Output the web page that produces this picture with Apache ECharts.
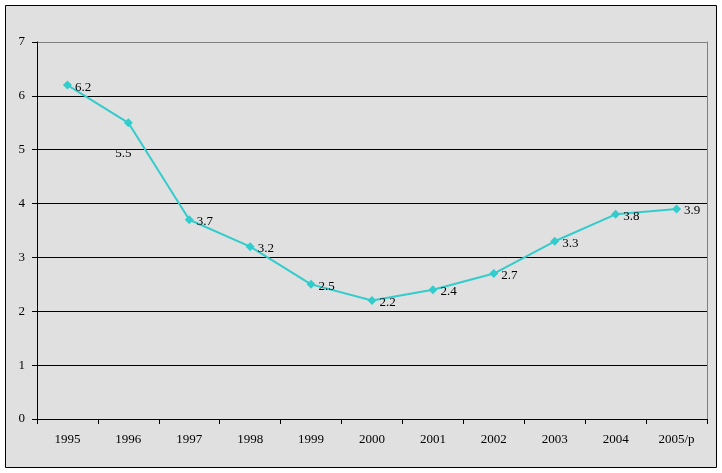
<!DOCTYPE html>
<html><head><meta charset="utf-8">
<script src="https://cdn.jsdelivr.net/npm/echarts@6/dist/echarts.min.js"></script>
<style>html,body{margin:0;padding:0;background:#fff}#c{width:722px;height:473px}</style>
</head><body><div id="c"></div>
<script>
const categories = ['1995','1996','1997','1998','1999','2000','2001','2002','2003','2004','2005/p'];
const values = [6.2,5.5,3.7,3.2,2.5,2.2,2.4,2.7,3.3,3.8,3.9];
const yTicks = [0,1,2,3,4,5,6,7];

const chart = echarts.init(document.getElementById('c'));
const font = '"Liberation Serif","DejaVu Serif",serif';
const data = values.map((v,i)=> i===1 ? {value:v,label:{position:'bottom',distance:5,offset:[-5,15]}} : v);
chart.setOption({
  backgroundColor:'#fff',
  animation:false,
  graphic:[{type:'rect',z:-10,shape:{x:5.5,y:5.5,width:711,height:462},style:{fill:'#E0E0E0',stroke:'#000',lineWidth:1}}],
  grid:{left:37,right:15,top:42,bottom:54},
  xAxis:{type:'category',data:categories,boundaryGap:true,
    axisLine:{lineStyle:{color:'#000'}},
    axisTick:{show:true,length:5,lineStyle:{color:'#000'}},
    axisLabel:{color:'#000',fontFamily:font,fontSize:13,margin:14}},
  yAxis:[{type:'value',min:0,max:7,interval:1,
    axisLine:{show:true,lineStyle:{color:'#000'}},
    axisTick:{show:true,length:5,lineStyle:{color:'#000'}},
    axisLabel:{color:'#000',fontFamily:font,fontSize:13,margin:12,formatter:v=>yTicks.includes(v)?String(v):''},
    splitLine:{show:true,lineStyle:{color:['#000','#000','#000','#000','#000','#000','#000','#808080'],width:1}}},
    {type:'value',min:0,max:7,interval:1,position:'right',
    axisLine:{show:true,lineStyle:{color:'#808080'}},axisTick:{show:false},axisLabel:{show:false},splitLine:{show:false}}],
  series:[{type:'line',data:data,yAxisIndex:0,
    lineStyle:{color:'#33CCCC',width:2},
    itemStyle:{color:'#33CCCC'},
    symbol:'diamond',symbolSize:9,
    label:{show:true,position:'right',distance:3,offset:[0,2],color:'#000',fontFamily:font,fontSize:13}}]
});
</script></body></html>
